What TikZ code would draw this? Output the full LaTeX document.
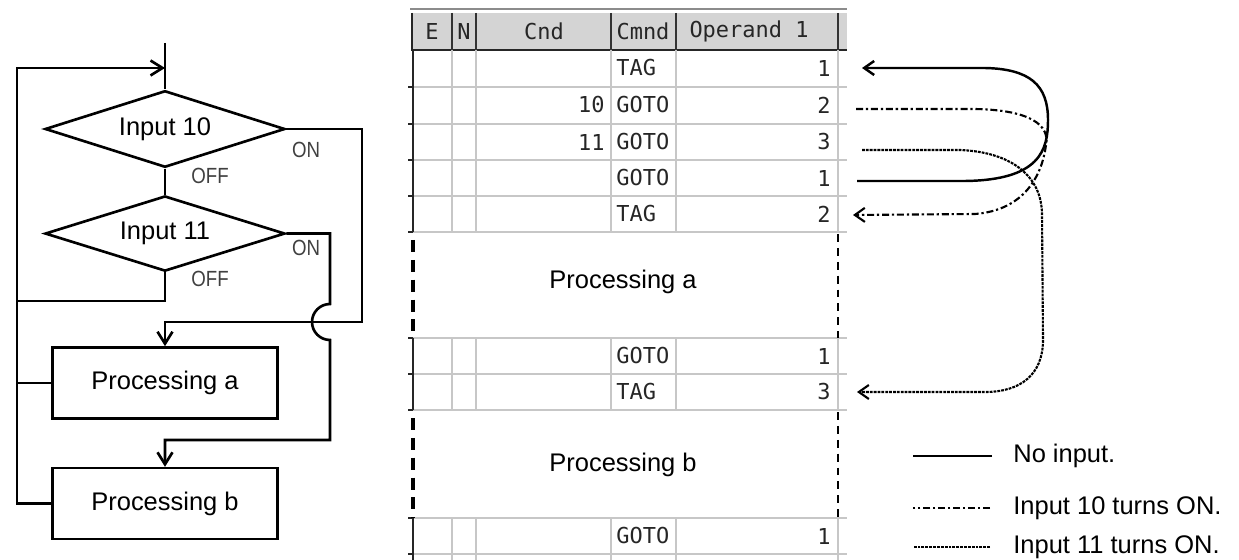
\documentclass[tikz,border=0pt]{standalone}
\usepackage{fontspec}
\setmainfont{Liberation Sans}
\newfontfamily\gridfont{DejaVu Sans Mono}
\usepackage{graphicx}
\usetikzlibrary{shapes.geometric, arrows.meta, positioning, calc}
\newcommand{\narrowtxt}[1]{\scalebox{0.85}[1]{#1}}

\begin{document}
\begin{tikzpicture}[
        x=0.02cm, y=-0.02cm,
        decision/.style={diamond, aspect=1.72, draw, line width=1.5pt, minimum width=4.8cm, inner sep=0pt, font=\fontsize{14.5}{16}\selectfont},
        block/.style={rectangle, draw, line width=1.5pt, minimum width=4.5cm, minimum height=1.42cm, font=\fontsize{14.5}{16}\selectfont},
        flow/.style={line width=1.5pt},
        arr/.style={flow, -{Straight Barb[length=2.4mm, width=3mm]}},
        state/.style={inner sep=0pt, text=black!75, font=\fontsize{12.5}{14}\selectfont},
        cell/.style={inner sep=0pt, text=black!85, font=\gridfont\fontsize{12.5}{14}\selectfont},
        txt/.style={inner sep=0pt, font=\fontsize{14.5}{16}\selectfont},
        grid/.style={black!22, line width=0.9pt},
        edge/.style={black!85, line width=1.6pt},
        jmp/.style={line width=1.2pt, -{Straight Barb[length=2mm, width=2.8mm]}},
        noinput/.style={jmp, line width=1.4pt},
        in10/.style={jmp, dash pattern=on 4pt off 1.6pt on 1.3pt off 1.6pt},
        in11/.style={jmp, dash pattern=on 1.6pt off 0.6pt}
    ]
        \useasboundingbox (0,0) rectangle (1239,560);

        % Flowchart
        \node[decision] (d10) at (165,129) {Input 10};
        \node[decision, below=0.52cm of d10] (d11) {Input 11};
        \node[block] (pa) at (165,383) {Processing a};
        \node[block, below=0.94cm of pa] (pb) {Processing b};
        \coordinate (start) at (165,43);
        \coordinate (join) at (165,68);
        \coordinate (lx) at (17,301);
        \coordinate (j11) at (330,304);

        \draw[flow] (start) -- (d10.north);
        \draw[flow] (d10) -- (d11);
        % OFF -> back to the top
        \draw[flow] (d11.south) |- (lx);
        \draw[flow] (pa.west) -- (pa.west -| lx);
        \draw[arr] (pb.west) -| (join -| lx) -- (join);
        % Input 10 ON -> Processing a
        \draw[arr] (d10.east) -| (362,322) -| (pa.north);
        % Input 11 ON -> Processing b (jumps over)
        \draw[arr] (d11.east) -| (j11) arc[start angle=90, end angle=270, radius=0.36cm] -- ++(0,100) -| (pb.north);

        \node[state] (on10) at (306,150) {\narrowtxt{ON}};
        \node[state] (off10) at (210,176) {\narrowtxt{OFF}};
        \node[state] (on11) at (306,248) {\narrowtxt{ON}};
        \node[state] (off11) at (210,279) {\narrowtxt{OFF}};

        % Program table
        \fill[black!17] (412,13) rectangle (847,50);
        \draw[black!45, line width=1.6pt] (410,9) -- (847,9);
        \draw[edge] (412,13) -- (412,50) -- (847,50);
        \foreach \x in {452,476,611,676,838}
            \draw[black!80, line width=1.1pt] (\x,13) -- (\x,50);
        \node[cell] (h-e) at (432,31) {E};
        \node[cell] (h-n) at (464,31) {N};
        \node[cell] (h-cnd) at (544,31) {Cnd};
        \node[cell] (h-cmnd) at (643,31) {Cmnd};
        \node[cell] (h-op) at (749,31) {Operand 1};

        \foreach \ya/\yb in {50/232, 338/410, 518/560}
            \foreach \x in {452,476,611,676,838}
                \draw[grid] (\x,\ya) -- (\x,\yb);
        \foreach \y in {87,124,160,196,232,338,374,410,518,554}
            \draw[grid] (412,\y) -- (847,\y);
        \foreach \ya/\yb in {50/232, 338/410, 518/560}
            \draw[edge] (413,\ya) -- (413,\yb);
        \foreach \y in {87,124,160,196,232,338,374,410,518,554}
            \draw[edge, line width=1.1pt] (408,\y) -- (413,\y);

        \foreach \y/\c/\o/\n [count=\i] in {68/TAG/1/{}, 105/GOTO/2/10, 142/GOTO/3/11, 178/GOTO/1/{},
                                       214/TAG/2/{}, 356/GOTO/1/{}, 392/TAG/3/{}, 536/GOTO/1/{}} {
            \node[cell, anchor=west] (cmd-\i) at (616,\y) {\c};
            \node[cell, anchor=east] (op-\i) at (831,\y) {\o};
            \node[cell, anchor=east] (cnd-\i) at (605,\y) {\n};
        }

        % omitted program parts
        \foreach \ya/\yb in {240/338, 418/518} {
            \draw[black, line width=2pt, dash pattern=on 6.8pt off 4.5pt] (413,\ya) -- (413,\yb);
            \draw[black, line width=0.6pt, dash pattern=on 4.5pt off 3.4pt] (838,\ya-6) -- (838,\yb);
        }
        \node[txt] (proca) at (623,282) {Processing a};
        \node[txt] (procb) at (623,465) {Processing b};

        % Jumps
        \coordinate (src1) at (857,181);
        \coordinate (dst1) at (862,68);
        \coordinate (src2) at (856,109);
        \coordinate (dst2) at (853,215);
        \coordinate (src3) at (862,150);
        \coordinate (dst3) at (857,392);
        \draw[noinput] (src1) -- (965,181) .. controls (1040,180) and (1048,150) .. (1048,120)
            .. controls (1048,85) and (1030,69) .. (985,68) -- (dst1);
        \draw[in10] (src2) -- (975,109) .. controls (1030,110) and (1050,125) .. (1046,145)
            .. controls (1042,175) and (1025,210) .. (975,214) -- (dst2);
        \draw[in11] (src3) -- (960,150) .. controls (1010,152) and (1042,175) .. (1042,215)
            -- (1043,340) .. controls (1043,375) and (1020,392) .. (985,392) -- (dst3);

        % Legend
        \node[txt, anchor=west] (lg1) at (1013,456) {No input.};
        \node[txt, anchor=west] (lg2) at (1013,508) {Input 10 turns ON.};
        \node[txt, anchor=west] (lg3) at (1013,547) {Input 11 turns ON.};
        \draw[line width=1.4pt] ($(lg1.west)+(-21,0)$) -- ++(-79,0);
        \draw[line width=1.1pt, dash pattern=on 4pt off 1.6pt on 1.3pt off 1.6pt] ($(lg2.west)+(-23,0)$) -- ++(-77,0);
        \draw[line width=1.1pt, dash pattern=on 1.6pt off 0.6pt] ($(lg3.west)+(-23,0)$) -- ++(-77,0);
    \end{tikzpicture}
\end{document}
